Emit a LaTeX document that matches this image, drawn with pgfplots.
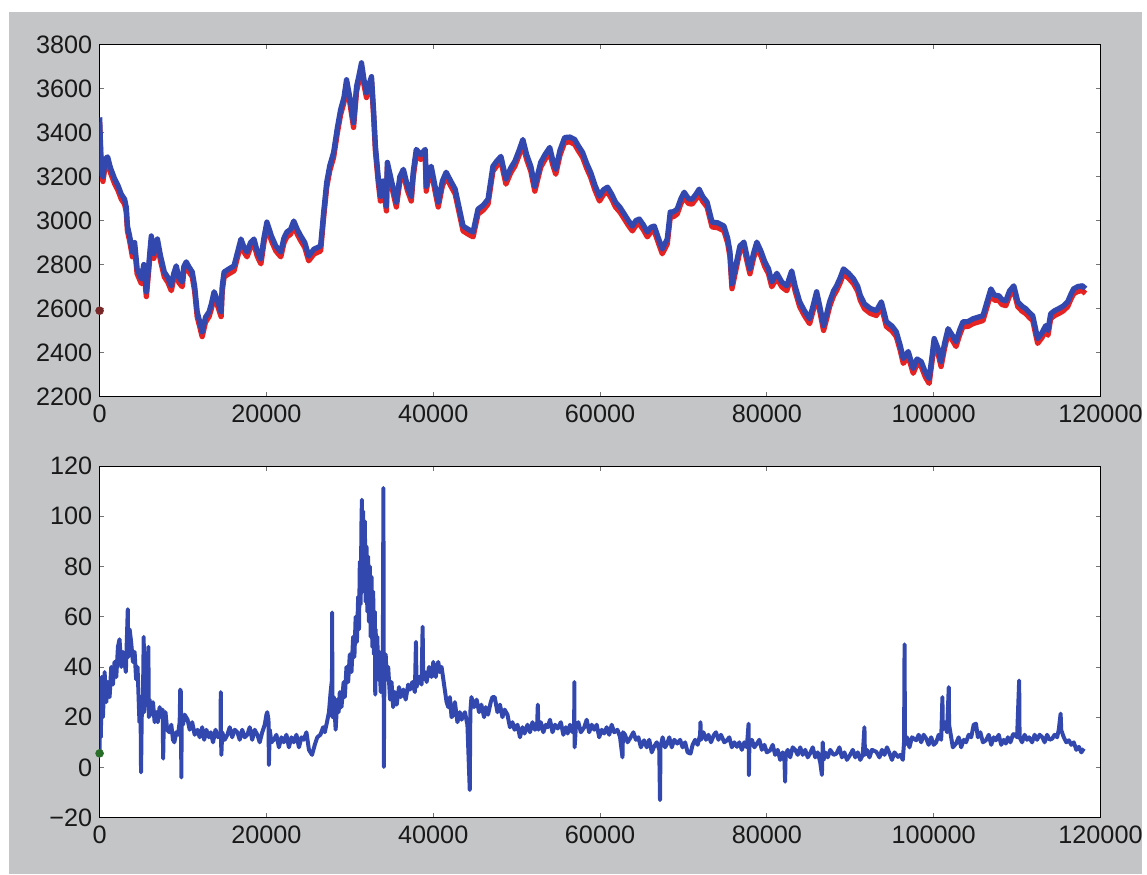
\documentclass[border=0pt]{standalone}
\usepackage{pgfplots}
\pgfplotsset{compat=1.18}
\usepackage{pgfplotstable}
\usepackage{fontspec}
\setmainfont{Liberation Sans}
\definecolor{bgray}{RGB}{195,197,199}
\definecolor{lblue}{RGB}{50,72,175}
\definecolor{lred}{RGB}{230,35,35}
\definecolor{dgreen}{RGB}{40,110,40}

\pgfplotstableread{
x y
0 3470
150 3300
400 3200
700 3280
960 3290
1300 3240
1800 3190
2200 3160
2600 3120
3000 3097
3200 3060
3340 2975
3600 2930
3940 2857
4200 2900
4500 2780
5010 2735
5300 2800
5610 2676
5900 2800
6200 2930
6500 2850
6930 2916
7300 2840
7760 2766
8200 2740
8600 2703
8900 2760
9190 2794
9500 2740
9910 2721
10100 2790
10390 2812
10700 2790
11110 2766
11400 2700
11700 2585
12000 2540
12300 2494
12700 2560
13130 2585
13400 2620
13730 2676
14100 2640
14570 2585
14700 2700
14930 2766
15500 2780
16120 2794
16500 2850
16950 2916
17300 2880
17670 2857
18100 2900
18510 2916
18900 2860
19340 2825
19700 2920
20060 2993
20600 2930
21130 2884
21730 2857
22100 2920
22450 2948
22900 2960
23280 2998
23700 2960
24120 2930
24600 2900
25070 2839
25700 2870
26500 2884
26870 3039
27230 3174
27600 3250
28060 3310
28500 3420
28900 3505
29300 3560
29610 3641
30000 3560
30450 3446
30810 3610
31100 3660
31400 3718
31700 3640
32000 3582
32300 3620
32600 3655
32850 3500
33070 3338
33400 3200
33670 3111
34000 3180
34390 3066
34500 3265
35000 3180
35580 3084
36000 3200
36420 3233
36900 3160
37370 3111
37600 3220
37970 3324
38500 3300
39040 3324
39160 3156
39500 3230
39760 3247
40200 3160
40600 3084
41100 3180
41550 3220
42100 3180
42630 3143
43100 3060
43580 2975
44200 2960
44780 2948
45370 3052
46000 3070
46570 3097
47160 3247
47600 3270
48120 3292
48720 3188
49300 3240
49790 3270
50300 3320
50750 3369
51200 3300
51700 3247
52180 3156
52890 3265
53400 3300
53970 3333
54300 3280
54690 3233
55200 3320
55760 3378
56400 3380
56960 3369
57400 3340
57910 3310
58400 3260
58870 3220
59400 3160
59940 3111
60400 3140
60900 3152
61400 3120
61850 3084
62400 3060
62920 3029
63400 3000
63880 2975
64300 3000
64710 3007
65200 2980
65670 2948
66100 2970
66500 2975
67000 2920
67460 2871
68060 2916
68420 3039
68800 3040
69250 3052
69700 3100
70090 3129
70600 3100
71040 3097
71500 3120
71880 3143
72300 3110
72830 3084
73430 2993
74100 2990
74860 2975
75300 2920
75580 2857
75820 2712
76300 2800
76770 2884
77250 2902
77600 2840
77970 2780
78400 2850
78800 2902
79300 2860
79760 2812
80200 2780
80590 2721
81200 2760
81800 2720
82390 2703
82980 2771
83400 2700
83940 2630
84500 2590
85130 2553
85600 2620
85970 2676
86400 2600
86800 2522
87200 2580
87520 2630
88000 2680
88360 2703
88800 2740
89190 2780
89800 2760
90390 2735
90900 2700
91200 2660
91700 2621
92400 2600
93130 2590
93730 2630
94000 2590
94330 2540
95000 2520
95520 2494
96000 2430
96360 2372
96950 2404
97550 2327
98000 2370
98510 2358
99000 2310
99460 2281
99800 2380
100060 2463
100500 2420
100890 2358
101300 2440
101730 2508
102200 2480
102680 2449
103100 2500
103520 2540
104100 2540
104710 2553
105300 2560
105910 2567
106400 2630
106860 2689
107300 2660
107820 2658
108200 2640
108650 2635
109100 2680
109610 2703
110090 2630
110600 2610
111040 2599
111500 2580
111880 2567
112200 2510
112470 2463
113000 2490
113430 2522
113700 2500
114030 2576
114500 2590
114980 2599
115500 2610
116060 2630
116400 2660
116770 2689
117300 2700
117850 2703
118200 2690
}\toptable

\pgfplotstableread{
x y
0 5
50 30
150 12
250 36
400 20
600 38
800 26
1000 34
1200 28
1400 40
1600 33
1790 42
2000 36
2200 48
2390 51
2600 40
2800 46
2980 42
3150 38
3380 63
3450 44
3600 55
3780 50
4000 42
4200 46
4380 35
4550 40
4780 18
4900 28
4970 -2
5050 20
5200 28
5290 52
5350 22
5450 36
5570 29
5700 32
5850 48
5900 20
6000 27
6170 21
6400 26
6600 18
6800 22
6970 18
7200 24
7400 20
7560 23
7620 3.5
7700 18
7900 22
8100 15
8360 14
8600 17
8800 11
8960 10
9200 14
9400 13
9600 18
9670 31
9750 30
9800 -4
9850 20
10000 17
10200 21
10550 19
10800 15
11100 18
11400 13
11740 15
12000 12
12300 16
12540 11
12800 15
13100 12
13330 14
13600 10
13900 15
14200 12
14500 13
14530 30
14560 13
14600 5
14700 14
15000 11
15320 13
15600 16
15900 12
16200 15
16520 14
16800 11
17100 15
17400 12
17710 13
18000 16
18300 11
18600 15
18910 13
19200 10
19500 14
19800 17
20000 21
20100 22
20250 19
20300 1
20400 15
20600 10
20890 11
21200 13
21500 8
21800 12
22080 10
22400 13
22700 8
23000 12
23280 10
23600 13
23900 8
24200 12
24470 11
24800 14
25100 7
25470 5
25800 9
26100 12
26470 13
26800 16
27000 14
27260 18
27500 22
27700 30
27860 35
27880 61.7
27920 20
28100 28
28300 15
28500 27
28660 22
28800 30
29000 24
29260 34
29400 28
29600 40
29800 34
30000 45
30200 38
30400 52
30550 44
30700 60
30850 50
31000 68
31100 55
31200 82
31300 65
31400 98
31450 106.6
31500 75
31600 102
31700 70
31800 98
31900 66
32000 88
32100 62
32200 84
32300 58
32400 80
32500 52
32600 76
32700 48
32800 70
32900 45
33000 62
33050 29
33100 55
33200 38
33300 52
33400 35
33560 46
33700 30
33850 44
33950 34
34030 111.3
34080 0.2
34150 40
34300 45
34430 35
34600 40
34830 27
35000 34
35200 24
35400 30
35620 25
35900 32
36100 28
36420 31
36700 27
37000 33
37210 31
37500 34
37800 30
37930 50
38000 32
38300 36
38600 33
38730 56
38800 35
39000 38
39210 34
39500 40
39800 36
40010 42
40300 36
40600 42
40800 38
41000 40
41300 33
41600 26
41800 24
42000 28
42200 20
42400 21
42600 26
42900 18
43190 22
43400 19
43800 22
44100 17
44380 -9
44450 22
44580 28
44900 24
45200 27
45500 22
45770 25
46100 20
46300 24
46570 21
46900 26
47100 28
47370 28
47700 22
48000 25
48300 20
48560 23
48900 21
49200 16
49500 18
49750 15
50100 17
50400 12
50700 16
50950 13.5
51300 17
51600 14
51900 18
52200 15
52450 16
52540 25
52620 15
52900 18
53200 14
53500 17
53730 16
54000 19
54300 14
54600 17
54930 15.5
55300 18
55600 13
55900 16
56120 13.5
56400 17
56700 14
56900 17
56920 34
56950 8
57100 16
57400 18
57700 14
58110 16
58400 19
58700 14
59000 17
59310 15
59600 17
59900 12
60200 15
60500 13.5
60800 16
61100 13
61400 17
61700 14
62090 15
62400 12
62690 4
62750 14
63000 13
63300 10
63680 12
64000 14
64300 11
64600 12
64900 8
65280 10.8
65600 8
65900 11
66200 6
66470 8.2
66800 10
67100 7
67190 -13
67250 8
67500 12
67800 8
68060 9.5
68300 12
68600 8
68900 11
69260 9.5
69600 11
69900 8
70200 10
70500 6
70850 5.5
71100 9
71400 11
71700 9
72000 13
72040 18
72100 11
72400 14
72700 11
73000 13
73300 10
73630 12.8
73900 14
74200 11
74500 13
74900 10
75230 10.8
75500 12
75800 8
76100 10
76420 8.2
76700 10
77000 7
77300 10
77600 8
77810 17.4
77850 -3.1
77900 8
78200 11
78500 8
78810 9.5
79100 11
79400 7
79700 9
80000 6
80400 6.8
80700 9
81000 5
81300 7
81600 3
81900 6
82100 4
82190 -5.7
82250 5
82500 7
82800 4
83100 8
83390 7
83700 5
84000 8
84300 5
84600 7
84900 4
85170 5.5
85500 8
85800 4
86100 6
86400 2
86600 -3
86700 10
86800 3
87000 6
87300 4
87600 7
88000 5
88350 5.5
88700 8
89000 4
89300 6
89600 3
89950 4.8
90300 7
90600 4
90900 6
91200 3
91500 5
91700 16
91760 5
92000 7
92300 4
92600 7
93130 6.2
93500 4
93800 7
94100 5
94400 8
94720 5.5
95000 3
95300 6
95720 4.2
96000 5
96300 3
96450 10
96510 49
96560 9
96800 12
97100 8
97400 12
97910 10.8
98200 13
98500 10
98800 13
99100 11.5
99400 9
99700 12
100000 9
100300 10
100600 13
100900 11
101050 28
101090 15
101300 18
101600 14
101810 32
101850 17
102000 14
102300 8
102680 9.5
103000 12
103300 8
103600 11
103880 10
104200 13
104500 12
104800 17
105070 17.4
105300 12
105600 14
105900 10
106270 10.8
106600 13
106900 9
107200 12
107460 10.8
107800 13
108100 9
108400 11
108650 9.5
108900 12
109200 10
109500 13
109650 13.4
110000 12
110250 34.6
110300 12
110600 10
110900 13
111200 11
111440 12
111800 10
112100 13
112400 11
112700 13
113030 12
113300 10
113600 13
113900 11
114220 11.5
114500 13
114800 12
115000 15
115220 21.4
115300 14.8
115600 12
115900 10
116210 10.8
116500 9
116800 10
117100 7
117410 8.2
117700 6
118010 7.5
}\bottable

\pgfplotsset{
  every axis/.append style={
    scale only axis,
    width=753.75pt, height=264.75pt,
    xmin=0, xmax=120000,
    scaled x ticks=false, scaled y ticks=false,
    axis background/.style={fill=white},
    axis line style={black, line width=0.8pt},
    tick align=inside,
    major tick length=3.5pt,
    tick style={black!55, line width=0.6pt},
    xtick={0,20000,40000,60000,80000,100000,120000},
    xticklabels={0,20000,40000,60000,80000,100000,120000},
    tick label style={font=\fontsize{19}{22}\selectfont, black!90},
    xticklabel style={yshift=-3pt},
    yticklabel style={xshift=-2pt},
    clip=true,
  }
}

\begin{document}
\begin{tikzpicture}
\fill[white] (0,0) rectangle (860.25pt,658.5pt);
\fill[bgray] (6.75pt,0) rectangle (860.25pt,649.5pt);

\begin{axis}[at={(75pt,360pt)}, anchor=south west,
  ymin=2200, ymax=3800,
  ytick={2200,2400,2600,2800,3000,3200,3400,3600,3800},
  yticklabels={2200,2400,2600,2800,3000,3200,3400,3600,3800}]
\addplot[lred, line width=4pt, line join=round] table[x=x, y expr=\thisrow{y}-22] {\toptable};
\addplot[lblue, line width=4pt, line join=round] table[x=x, y=y] {\toptable};
\addplot[only marks, mark=*, mark size=3pt, color={rgb,255:red,120;green,40;blue,40}] coordinates {(0,2590)};
\end{axis}

\begin{axis}[at={(75pt,42.75pt)}, anchor=south west,
  ymin=-20, ymax=120,
  ytick={-20,0,20,40,60,80,100,120},
  yticklabels={−20,0,20,40,60,80,100,120}]
\addplot[lblue, line width=3pt, line join=round] table[x=x, y=y] {\bottable};
\addplot[only marks, mark=*, mark size=3pt, color=dgreen] coordinates {(0,5.6)};
\end{axis}
\end{tikzpicture}
\end{document}
